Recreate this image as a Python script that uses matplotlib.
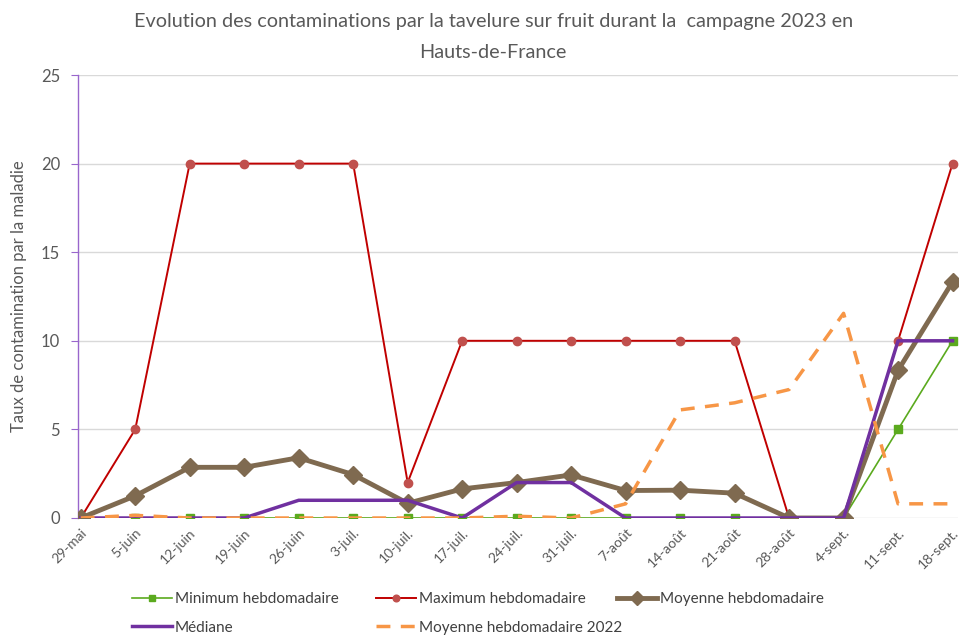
import matplotlib
matplotlib.use("Agg")
import matplotlib.pyplot as plt

plt.rcParams['font.family'] = ['Lato', 'DejaVu Sans']

weeks = ["29-mai", "5-juin", "12-juin", "19-juin", "26-juin", "3-juil.", "10-juil.",
         "17-juil.", "24-juil.", "31-juil.", "7-août", "14-août", "21-août", "28-août",
         "4-sept.", "11-sept.", "18-sept."]

minimum = [0, 0, 0, 0, 0, 0, 0, 0, 0, 0, 0, 0, 0, 0, 0, 5, 10]
maximum = [0, 5, 20, 20, 20, 20, 2, 10, 10, 10, 10, 10, 10, 0, 0, 10, 20]
moyenne = [0, 1.25, 2.86, 2.86, 3.4, 2.45, 0.83, 1.64, 2.0, 2.43, 1.55, 1.57, 1.4, 0, 0, 8.33, 13.33]
mediane = [0, 0, 0, 0, 1, 1, 1, 0, 2, 2, 0, 0, 0, 0, 0, 10, 10]
moyenne_2022 = [0, 0.15, 0, 0, 0, 0, 0, 0, 0.1, 0, 0.8, 6.1, 6.5, 7.25, 11.55, 0.8, 0.8]

yticks = [0, 5, 10, 15, 20, 25]

W, H = 973, 639
fig = plt.figure(figsize=(W / 100, H / 100), dpi=100)
ax = fig.add_axes([78 / W, 1 - 518 / H, (958 - 78) / W, (518 - 75) / H])

x = list(range(len(weeks)))

l_min, = ax.plot(x, minimum, color="#5BAA1E", lw=1.2, marker="s", ms=6,
                 mfc="#5BAA1E", mec="#5BAA1E", label="Minimum hebdomadaire", zorder=3)
l_max, = ax.plot(x, maximum, color="#C00000", lw=1.4, marker="o", ms=6,
                 mfc="#C0504D", mec="#C0504D", label="Maximum hebdomadaire", zorder=3)
l_moy, = ax.plot(x, moyenne, color="#7F6A50", lw=3.5, marker="D", ms=9,
                 mfc="#7F6A50", mec="#7F6A50", label="Moyenne hebdomadaire", zorder=4)
l_med, = ax.plot(x, mediane, color="#7030A0", lw=2.5, label="Médiane", zorder=5)
l_22, = ax.plot(x, moyenne_2022, color="#F79646", lw=2.5, ls=(0, (4, 3)),
                label="Moyenne hebdomadaire 2022", zorder=6)

ax.set_xlim(-0.05, len(weeks) - 1 + 0.1)
ax.set_ylim(0, 25)
ax.set_yticks(yticks)
ax.set_xticks(x)
ax.set_xticklabels(weeks, rotation=45, ha="right", rotation_mode="anchor",
                   fontsize=10, color="#595959")
ax.tick_params(axis="x", length=0, pad=6)
ax.tick_params(axis="y", direction="out", length=5, color="#9966CC",
               labelsize=12, labelcolor="#595959", pad=8)

ax.grid(axis="y", color="#D9D9D9", lw=1)
ax.set_axisbelow(True)
for side in ["top", "right", "bottom"]:
    ax.spines[side].set_visible(False)
ax.spines["left"].set_color("#9966CC")
ax.spines["left"].set_linewidth(1)

ax.set_ylabel("Taux de contamination par la maladie", fontsize=12,
              color="#595959", labelpad=10)

title_lines = ["Evolution des contaminations par la tavelure sur fruit durant la  campagne 2023 en",
               "Hauts-de-France"]
for txt, ypx in zip(title_lines, [22, 52]):
    fig.text(0.507, 1 - ypx / H, txt, ha="center", va="center",
             fontsize=14.3, color="#595959")

# Legend laid out as three equal-width columns below the plot
columns = [([l_min, l_med], 132), ([l_max, l_22], 376), ([l_moy], 617)]
for lines, xpx in columns:
    fig.legend(lines, [ln.get_label() for ln in lines],
               loc="upper left", bbox_to_anchor=(xpx / W, 1 - 592 / H),
               ncol=1, frameon=False, fontsize=11, labelcolor="#404040",
               handlelength=2.6, handletextpad=0.2, labelspacing=0.95,
               borderpad=0, borderaxespad=0, markerscale=0.8)

fig.savefig("out.png", dpi=100)
